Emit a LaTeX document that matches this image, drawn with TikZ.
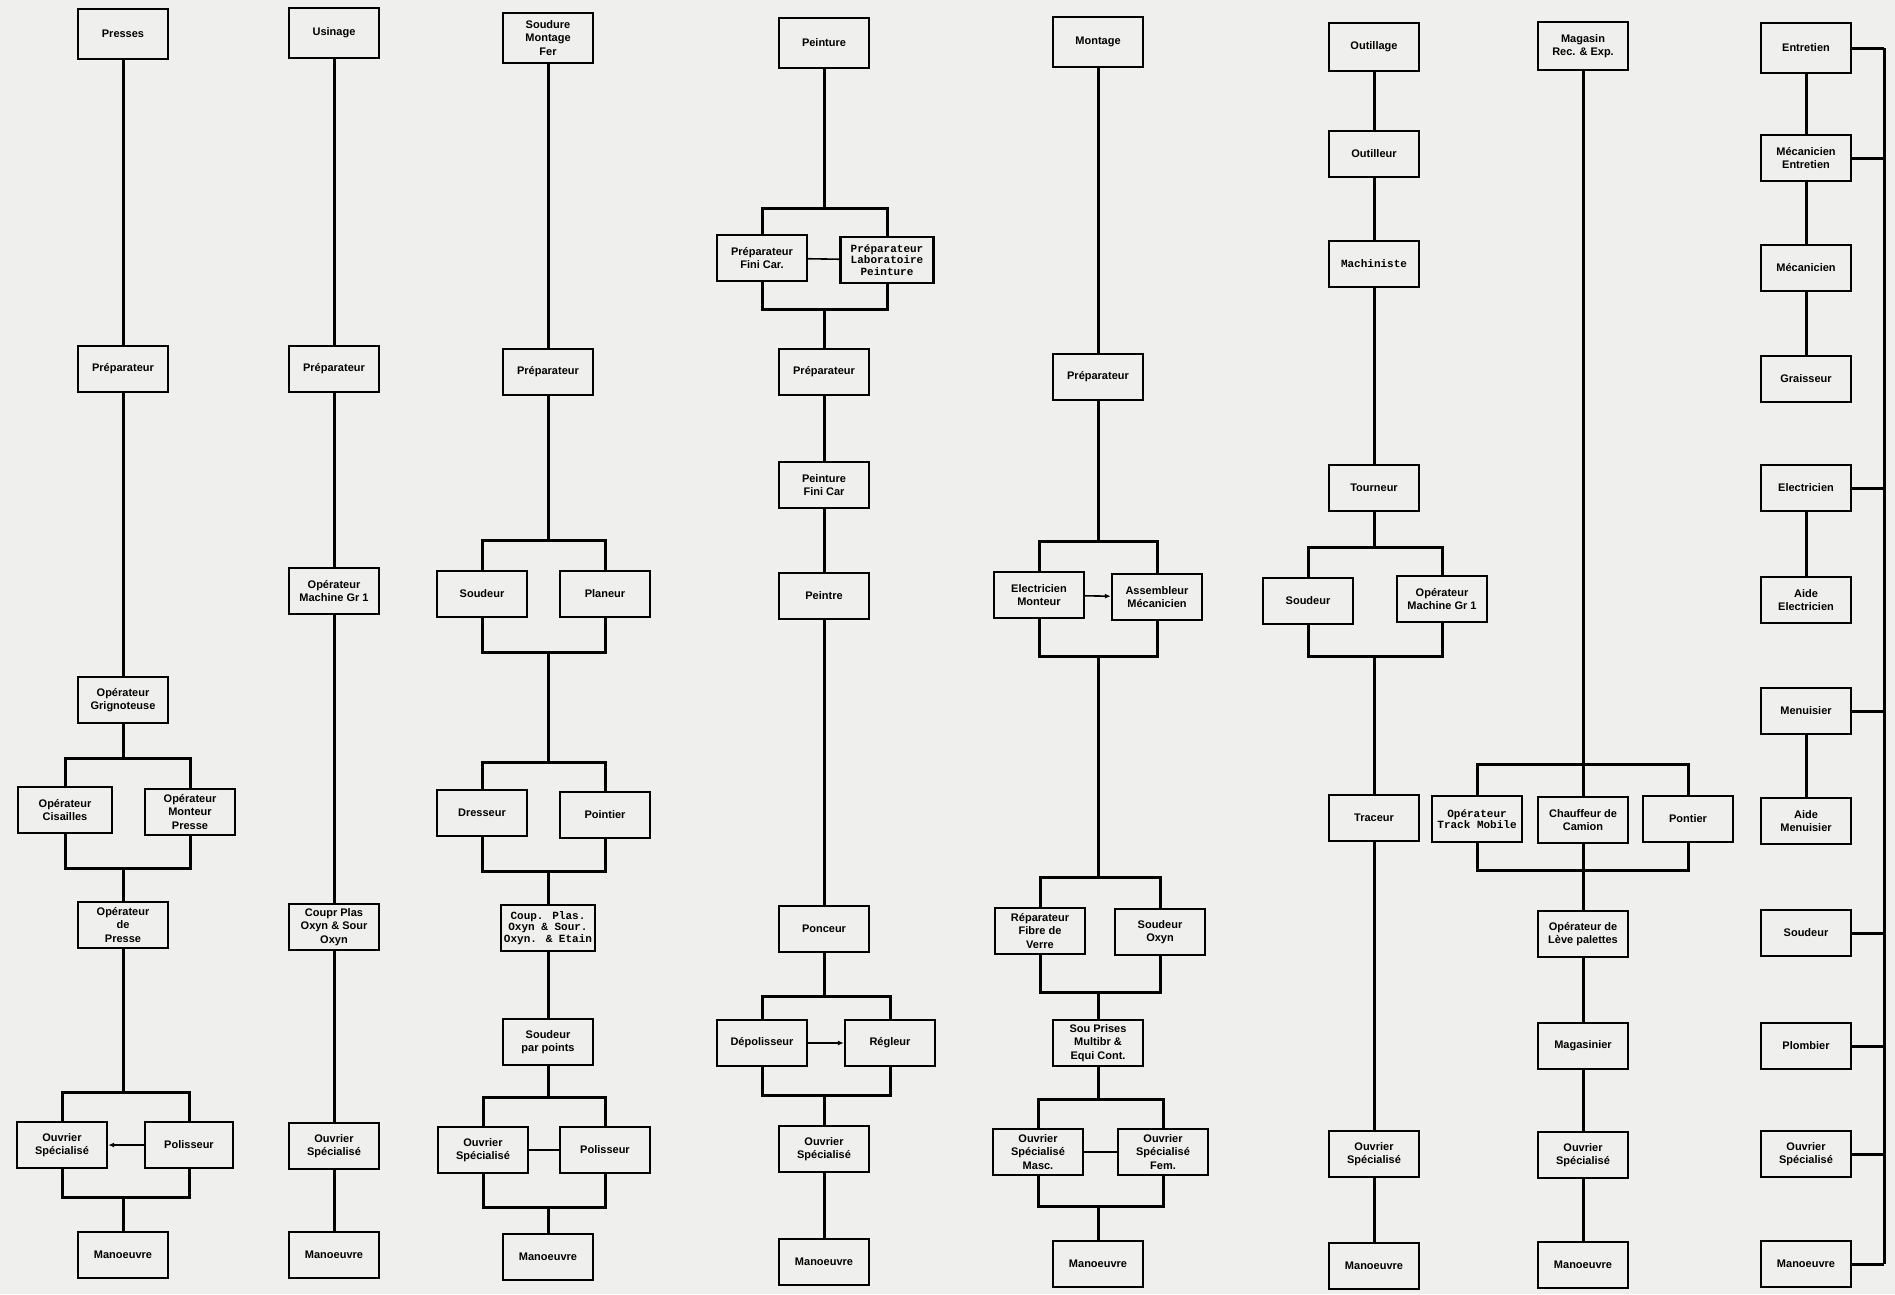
\documentclass[tikz,border=0pt]{standalone}
\usepackage{fontspec}
\setmainfont{Liberation Sans}
\newfontfamily\monof{Liberation Mono}
\usetikzlibrary{arrows.meta}
\definecolor{paper}{RGB}{239,239,237}
\begin{document}
\begin{tikzpicture}[x=1pt,y=-1pt,
  box/.style={draw, line width=2.4pt, minimum width=90pt, minimum height=46pt, inner sep=1pt, align=center, font=\bfseries\fontsize{11}{13.5}\selectfont},
  mbox/.style={box, font=\monof\bfseries\fontsize{11}{11.5}\selectfont},
  conn/.style={line width=3pt, line join=miter},
  link/.style={line width=1.6pt},
  arr/.style={link, -{Latex[length=6pt,width=5pt]}}]
\fill[paper] (0,0) rectangle (1895,1294);
\useasboundingbox (0,0) rectangle (1895,1294);

% ---------------- Column 1 : Presses
\node[box,minimum height=50pt] (p1) at (123,34) {Presses};
\node[box] (p2) at (123,369) {Préparateur};
\node[box] (p3) at (123,700) {Opérateur\\Grignoteuse};
\node[box,minimum width=94pt] (p4a) at (65,810) {Opérateur\\Cisailles};
\node[box] (p4b) at (190,812) {Opérateur\\Monteur\\Presse};
\node[box] (p5) at (123,925) {Opérateur\\de\\Presse};
\node[box] (p6a) at (62,1145) {Ouvrier\\Spécialisé};
\node[box,minimum width=88pt] (p6b) at (189,1145) {Polisseur};
\node[box] (p7) at (123,1255) {Manoeuvre};
\coordinate (p1t) at (123,758);
\coordinate (p1b) at (123,868);
\coordinate (p2t) at (123,1092);
\coordinate (p2b) at (123,1197);
\draw[conn] (p1) -- (p2);
\draw[conn] (p2) -- (p3);
\draw[conn] (p3) -- (p1t);
\draw[conn] (p4a.north) |- (p1t) -| (p4b.north);
\draw[conn] (p4a.south) |- (p1b) -| (p4b.south);
\draw[conn] (p1b) -- (p5);
\draw[conn] (p5) -- (p2t);
\draw[conn] (p6a.north) |- (p2t) -| (p6b.north);
\draw[conn] (p6a.south) |- (p2b) -| (p6b.south);
\draw[conn] (p2b) -- (p7);
\draw[arr] (p6b) -- (p6a);

% ---------------- Column 2 : Usinage
\node[box,minimum height=50pt] (u1) at (334,33) {Usinage};
\node[box] (u2) at (334,369) {Préparateur};
\node[box] (u3) at (334,591) {Opérateur\\Machine Gr 1};
\node[box] (u4) at (334,927) {Coupr Plas\\Oxyn \& Sour\\Oxyn};
\node[box] (u5) at (334,1146) {Ouvrier\\Spécialisé};
\node[box] (u6) at (334,1255) {Manoeuvre};
\draw[conn] (u1) -- (u2);
\draw[conn] (u2) -- (u3);
\draw[conn] (u3) -- (u4);
\draw[conn] (u4) -- (u5);
\draw[conn] (u5) -- (u6);

% ---------------- Column 3 : Soudure Montage Fer
\node[box,minimum height=50pt] (s1) at (548,38) {Soudure\\Montage\\Fer};
\node[box] (s2) at (548,372) {Préparateur};
\node[box] (s3a) at (482,594) {Soudeur};
\node[box] (s3b) at (605,594) {Planeur};
\node[box] (s4a) at (482,813) {Dresseur};
\node[box] (s4b) at (605,815) {Pointier};
\node[mbox,minimum width=94pt] (s5) at (548,928) {Coup. Plas.\\Oxyn \& Sour.\\Oxyn. \& Etain};
\node[box] (s6) at (548,1042) {Soudeur\\par points};
\node[box] (s7a) at (483,1150) {Ouvrier\\Spécialisé};
\node[box] (s7b) at (605,1150) {Polisseur};
\node[box] (s8) at (548,1257) {Manoeuvre};
\coordinate (s1t) at (548,540);
\coordinate (s1b) at (548,652);
\coordinate (s2t) at (548,762);
\coordinate (s2b) at (548,871);
\coordinate (s3t) at (548,1097);
\coordinate (s3b') at (548,1207);
\draw[conn] (s1) -- (s2);
\draw[conn] (s2) -- (s1t);
\draw[conn] (s3a.north) |- (s1t) -| (s3b.north);
\draw[conn] (s3a.south) |- (s1b) -| (s3b.south);
\draw[conn] (s1b) -- (s2t);
\draw[conn] (s4a.north) |- (s2t) -| (s4b.north);
\draw[conn] (s4a.south) |- (s2b) -| (s4b.south);
\draw[conn] (s2b) -- (s5);
\draw[conn] (s5) -- (s6);
\draw[conn] (s6) -- (s3t);
\draw[conn] (s7a.north) |- (s3t) -| (s7b.north);
\draw[conn] (s7a.south) |- (s3b') -| (s7b.south);
\draw[conn] (s3b') -- (s8);
\draw[link] (s7a) -- (s7b);

% ---------------- Column 4 : Peinture
\node[box,minimum height=50pt] (t1) at (824,43) {Peinture};
\node[box] (t2a) at (762,258) {Préparateur\\Fini Car.};
\node[mbox,minimum width=93pt] (t2b) at (887,260) {Préparateur\\Laboratoire\\Peinture};
\node[box] (t3) at (824,372) {Préparateur};
\node[box] (t4) at (824,485) {Peinture\\Fini Car};
\node[box] (t5) at (824,596) {Peintre};
\node[box] (t6) at (824,929) {Ponceur};
\node[box] (t7a) at (762,1043) {Dépolisseur};
\node[box] (t7b) at (890,1043) {Régleur};
\node[box] (t8) at (824,1149) {Ouvrier\\Spécialisé};
\node[box] (t9) at (824,1262) {Manoeuvre};
\coordinate (t1t) at (824,208);
\coordinate (t1b) at (824,309);
\coordinate (t2t) at (824,996);
\coordinate (t2b') at (824,1095);
\draw[conn] (t1) -- (t1t);
\draw[conn] (t2a.north) |- (t1t) -| (t2b.north);
\draw[conn] (t2a.south) |- (t1b) -| (t2b.south);
\draw[conn] (t1b) -- (t3);
\draw[link] (t2a) -- (t2b);
\draw[conn] (t3) -- (t4);
\draw[conn] (t4) -- (t5);
\draw[conn] (t5) -- (t6);
\draw[conn] (t6) -- (t2t);
\draw[conn] (t7a.north) |- (t2t) -| (t7b.north);
\draw[conn] (t7a.south) |- (t2b') -| (t7b.south);
\draw[conn] (t2b') -- (t8);
\draw[arr] (t7a) -- (t7b);
\draw[conn] (t8) -- (t9);

% ---------------- Column 5 : Montage
\node[box,minimum height=50pt] (m1) at (1098,42) {Montage};
\node[box] (m2) at (1098,377) {Préparateur};
\node[box] (m3a) at (1039,595) {Electricien\\Monteur};
\node[box] (m3b) at (1157,597) {Assembleur\\Mécanicien};
\node[box] (m4a) at (1040,931) {Réparateur\\Fibre de\\Verre};
\node[box] (m4b) at (1160,932) {Soudeur\\Oxyn};
\node[box] (m5) at (1098,1043) {Sou Prises\\Multibr \&\\Equi Cont.};
\node[box] (m6a) at (1038,1152) {Ouvrier\\Spécialisé\\Masc.};
\node[box] (m6b) at (1163,1152) {Ouvrier\\Spécialisé\\Fem.};
\node[box] (m7) at (1098,1264) {Manoeuvre};
\coordinate (m1t) at (1098,541);
\coordinate (m1b) at (1098,656);
\coordinate (m2t) at (1098,877);
\coordinate (m2b) at (1098,992);
\coordinate (m3t) at (1098,1099);
\coordinate (m3b') at (1098,1206);
\draw[conn] (m1) -- (m2);
\draw[conn] (m2) -- (m1t);
\draw[conn] (m3a.north) |- (m1t) -| (m3b.north);
\draw[conn] (m3a.south) |- (m1b) -| (m3b.south);
\draw[arr] (m3a) -- (m3b);
\draw[conn] (m1b) -- (m2t);
\draw[conn] (m4a.north) |- (m2t) -| (m4b.north);
\draw[conn] (m4a.south) |- (m2b) -| (m4b.south);
\draw[conn] (m2b) -- (m5);
\draw[conn] (m5) -- (m3t);
\draw[conn] (m6a.north) |- (m3t) -| (m6b.north);
\draw[conn] (m6a.south) |- (m3b') -| (m6b.south);
\draw[link] (m6a) -- (m6b);
\draw[conn] (m3b') -- (m7);

% ---------------- Column 6 : Outillage
\node[box,minimum height=48pt] (o1) at (1374,47) {Outillage};
\node[box] (o2) at (1374,154) {Outilleur};
\node[mbox] (o3) at (1374,264) {Machiniste};
\node[box] (o4) at (1374,488) {Tourneur};
\node[box] (o5a) at (1308,601) {Soudeur};
\node[box] (o5b) at (1442,599) {Opérateur\\Machine Gr 1};
\node[box] (o6) at (1374,818) {Traceur};
\node[box] (o7) at (1374,1154) {Ouvrier\\Spécialisé};
\node[box] (o8) at (1374,1266) {Manoeuvre};
\coordinate (o1t) at (1374,547);
\coordinate (o1b) at (1374,656);
\draw[conn] (o1) -- (o2);
\draw[conn] (o2) -- (o3);
\draw[conn] (o3) -- (o4);
\draw[conn] (o4) -- (o1t);
\draw[conn] (o5a.north) |- (o1t) -| (o5b.north);
\draw[conn] (o5a.south) |- (o1b) -| (o5b.south);
\draw[conn] (o1b) -- (o6);
\draw[conn] (o6) -- (o7);
\draw[conn] (o7) -- (o8);

% ---------------- Column 7 : Magasin
\node[box,minimum height=48pt] (g1) at (1583,46) {Magasin\\Rec. \& Exp.};
\node[mbox] (g2a) at (1477,819) {Opérateur\\Track Mobile};
\node[box] (g2b) at (1583,820) {Chauffeur de\\Camion};
\node[box] (g2c) at (1688,819) {Pontier};
\node[box] (g3) at (1583,934) {Opérateur de\\Lève palettes};
\node[box] (g4) at (1583,1046) {Magasinier};
\node[box] (g5) at (1583,1155) {Ouvrier\\Spécialisé};
\node[box] (g6) at (1583,1265) {Manoeuvre};
\coordinate (g1t) at (1583,764);
\coordinate (g1b) at (1583,870);
\draw[conn] (g1) -- (g1t);
\draw[conn] (g2a.north) |- (g1t) -| (g2c.north);
\draw[conn] (g1t) -- (g2b);
\draw[conn] (g2a.south) |- (g1b) -| (g2c.south);
\draw[conn] (g2b) -- (g1b);
\draw[conn] (g1b) -- (g3);
\draw[conn] (g3) -- (g4);
\draw[conn] (g4) -- (g5);
\draw[conn] (g5) -- (g6);

% ---------------- Column 8 : Entretien
\node[box,minimum height=50pt] (e1) at (1806,48) {Entretien};
\node[box] (e2) at (1806,158) {Mécanicien\\Entretien};
\node[box] (e3) at (1806,268) {Mécanicien};
\node[box] (e4) at (1806,379) {Graisseur};
\node[box] (e5) at (1806,488) {Electricien};
\node[box] (e6) at (1806,600) {Aide\\Electricien};
\node[box] (e7) at (1806,711) {Menuisier};
\node[box] (e8) at (1806,821) {Aide\\Menuisier};
\node[box] (e9) at (1806,933) {Soudeur};
\node[box] (e10) at (1806,1046) {Plombier};
\node[box] (e11) at (1806,1154) {Ouvrier\\Spécialisé};
\node[box] (e12) at (1806,1264) {Manoeuvre};
\coordinate (ebt) at (1884,48);
\coordinate (ebb) at (1884,1264);
\draw[conn] (ebt) -- (ebb);
\draw[conn] (e1) -- (e2);
\draw[conn] (e2) -- (e3);
\draw[conn] (e3) -- (e4);
\draw[conn] (e5) -- (e6);
\draw[conn] (e7) -- (e8);
\foreach \n in {e1,e2,e5,e7,e9,e10,e11,e12}
  \draw[conn] (\n.east) -- (\n.east -| ebt);
\end{tikzpicture}
\end{document}
